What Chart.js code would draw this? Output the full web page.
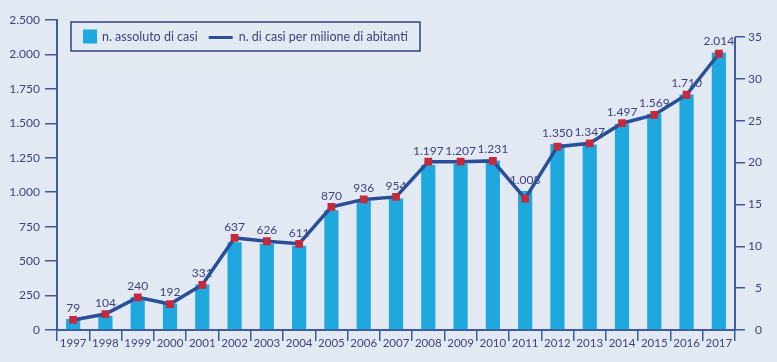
<!DOCTYPE html>
<html lang="it">
<head>
<meta charset="utf-8">
<script src="https://cdn.jsdelivr.net/npm/chart.js@4"></script>
<style>
  html, body { margin: 0; padding: 0; background: #e3e9f2; }
  #wrap { width: 777px; height: 362px; }
</style>
</head>
<body>
<div id="wrap"><canvas id="myChart"></canvas></div>
<script>
const years = ["1997", "1998", "1999", "2000", "2001", "2002", "2003", "2004", "2005", "2006", "2007",
  "2008", "2009", "2010", "2011", "2012", "2013", "2014", "2015", "2016", "2017"];
const casesAbs = [79, 104, 240, 192, 331, 637, 626, 611, 870, 936, 954,
  1197, 1207, 1231, 1008, 1350, 1347, 1497, 1569, 1710, 2014];
const casesPerMillion = [1.2, 1.9, 3.9, 3.1, 5.4, 11.0, 10.6, 10.3, 14.7, 15.6, 15.9,
  20.1, 20.1, 20.2, 15.7, 21.9, 22.3, 24.7, 25.7, 28.1, 33.0];
const leftTickLabels = ["0", "250", "500", "750", "1.000", "1.250", "1.500", "1.750", "2.000", "2.500"];
const rightTickValues = [0, 5, 10, 15, 20, 25, 30, 35];
const seriesNames = ["n. assoluto di casi", "n. di casi per milione di abitanti"];

const BAR = "#1fa8dd";
const LINE = "#2a4f98";
const MARK = "#c42a3c";
const AXIS = "#3e5b9b";
const TEXT = "#3f437c";
const FONT = "Lato, 'Open Sans', sans-serif";

const fmt = (v) => v.toLocaleString("it-IT");

// value labels above each year, drawn after the bars but under the line
const valueLabels = {
  id: "valueLabels",
  afterDatasetDraw(chart, args) {
    if (args.index !== 1) return;
    const { ctx } = chart;
    const lineMeta = chart.getDatasetMeta(0);
    const barMeta = chart.getDatasetMeta(1);
    ctx.save();
    ctx.font = "12px " + FONT;
    ctx.fillStyle = TEXT;
    ctx.textAlign = "center";
    ctx.textBaseline = "middle";
    casesAbs.forEach((v, i) => {
      const bar = barMeta.data[i];
      const pt = lineMeta.data[i];
      const y = Math.min(bar.y, pt.y) - 11;
      ctx.fillText(fmt(v), bar.x, y);
    });
    ctx.restore();
  },
};

// right axis line only from 0 to 35, plus boxed legend
const decorations = {
  id: "decorations",
  afterDraw(chart) {
    const { ctx, chartArea } = chart;
    const right = chart.scales.yRight;
    ctx.save();
    ctx.strokeStyle = AXIS;
    ctx.lineWidth = 2;
    ctx.beginPath();
    ctx.moveTo(chartArea.right, right.getPixelForValue(0) + 1);
    ctx.lineTo(chartArea.right, right.getPixelForValue(35));
    ctx.stroke();

    // legend
    ctx.font = "12.5px " + FONT;
    const w1 = ctx.measureText(seriesNames[0]).width;
    const w2 = ctx.measureText(seriesNames[1]).width;
    const x0 = chartArea.left + 14;
    const y0 = chartArea.top + 2;
    const boxW = 12 + 14 + 5 + w1 + 11 + 24 + 6 + w2 + 12;
    const boxH = 29;
    ctx.lineWidth = 1.5;
    ctx.strokeStyle = "#34407e";
    ctx.strokeRect(x0, y0, boxW, boxH);
    const cy = y0 + boxH / 2;
    let x = x0 + 12;
    ctx.fillStyle = BAR;
    ctx.fillRect(x, cy - 7, 14, 14);
    x += 14 + 5;
    ctx.fillStyle = TEXT;
    ctx.textBaseline = "middle";
    ctx.textAlign = "left";
    ctx.fillText(seriesNames[0], x, cy);
    x += w1 + 11;
    ctx.strokeStyle = LINE;
    ctx.lineWidth = 3;
    ctx.beginPath();
    ctx.moveTo(x, cy + 1);
    ctx.lineTo(x + 24, cy + 1);
    ctx.stroke();
    x += 24 + 6;
    ctx.fillText(seriesNames[1], x, cy);
    ctx.restore();
  },
};

const ctx = document.getElementById("myChart").getContext("2d");
const myChart = new Chart(ctx, {
  type: "bar",
  data: {
    labels: years,
    datasets: [
      {
        type: "line",
        label: seriesNames[1],
        data: casesPerMillion,
        yAxisID: "yRight",
        borderColor: LINE,
        borderWidth: 3.5,
        pointStyle: "rect",
        pointRadius: 5.5,
        pointBackgroundColor: MARK,
        pointBorderWidth: 0,
        tension: 0,
        order: 0,
      },
      {
        label: seriesNames[0],
        data: casesAbs,
        yAxisID: "y",
        backgroundColor: BAR,
        barPercentage: 0.44,
        categoryPercentage: 1,
        order: 1,
      },
    ],
  },
  options: {
    responsive: true,
    maintainAspectRatio: false,
    animation: false,
    layout: { padding: { top: 20, right: 15, left: 0, bottom: 0 } },
    plugins: {
      legend: { display: false },
      tooltip: { enabled: false },
    },
    scales: {
      x: {
        offset: true,
        grid: { offset: true, drawOnChartArea: false, color: AXIS, tickLength: 11, lineWidth: 1.5 },
        border: { color: AXIS, width: 2 },
        ticks: { color: TEXT, font: { family: FONT, size: 11.5 }, padding: -5, maxRotation: 0, autoSkip: false },
        afterFit(scale) { scale.height = 32; },
      },
      y: {
        position: "left",
        min: 0,
        max: 2250,
        grid: { drawOnChartArea: false, color: AXIS, tickLength: 12, lineWidth: 1.5 },
        border: { color: AXIS, width: 2 },
        ticks: {
          stepSize: 250,
          color: TEXT,
          font: { family: FONT, size: 12 },
          padding: 5,
          callback: (v, i) => leftTickLabels[i],
        },
        afterFit(scale) { scale.width = 57; },
      },
      yRight: {
        position: "right",
        min: 0,
        max: 37.03,
        grid: { drawOnChartArea: false, color: AXIS, tickLength: 10, lineWidth: 1.5 },
        border: { display: false },
        afterBuildTicks(scale) {
          scale.ticks = rightTickValues.map((v) => ({ value: v }));
        },
        ticks: {
          color: TEXT,
          font: { family: FONT, size: 12 },
          padding: 5,
          crossAlign: "far",
          callback: (v) => String(v),
        },
        afterFit(scale) { scale.width = 27; },
      },
    },
  },
  plugins: [valueLabels, decorations],
});
</script>
</body>
</html>
